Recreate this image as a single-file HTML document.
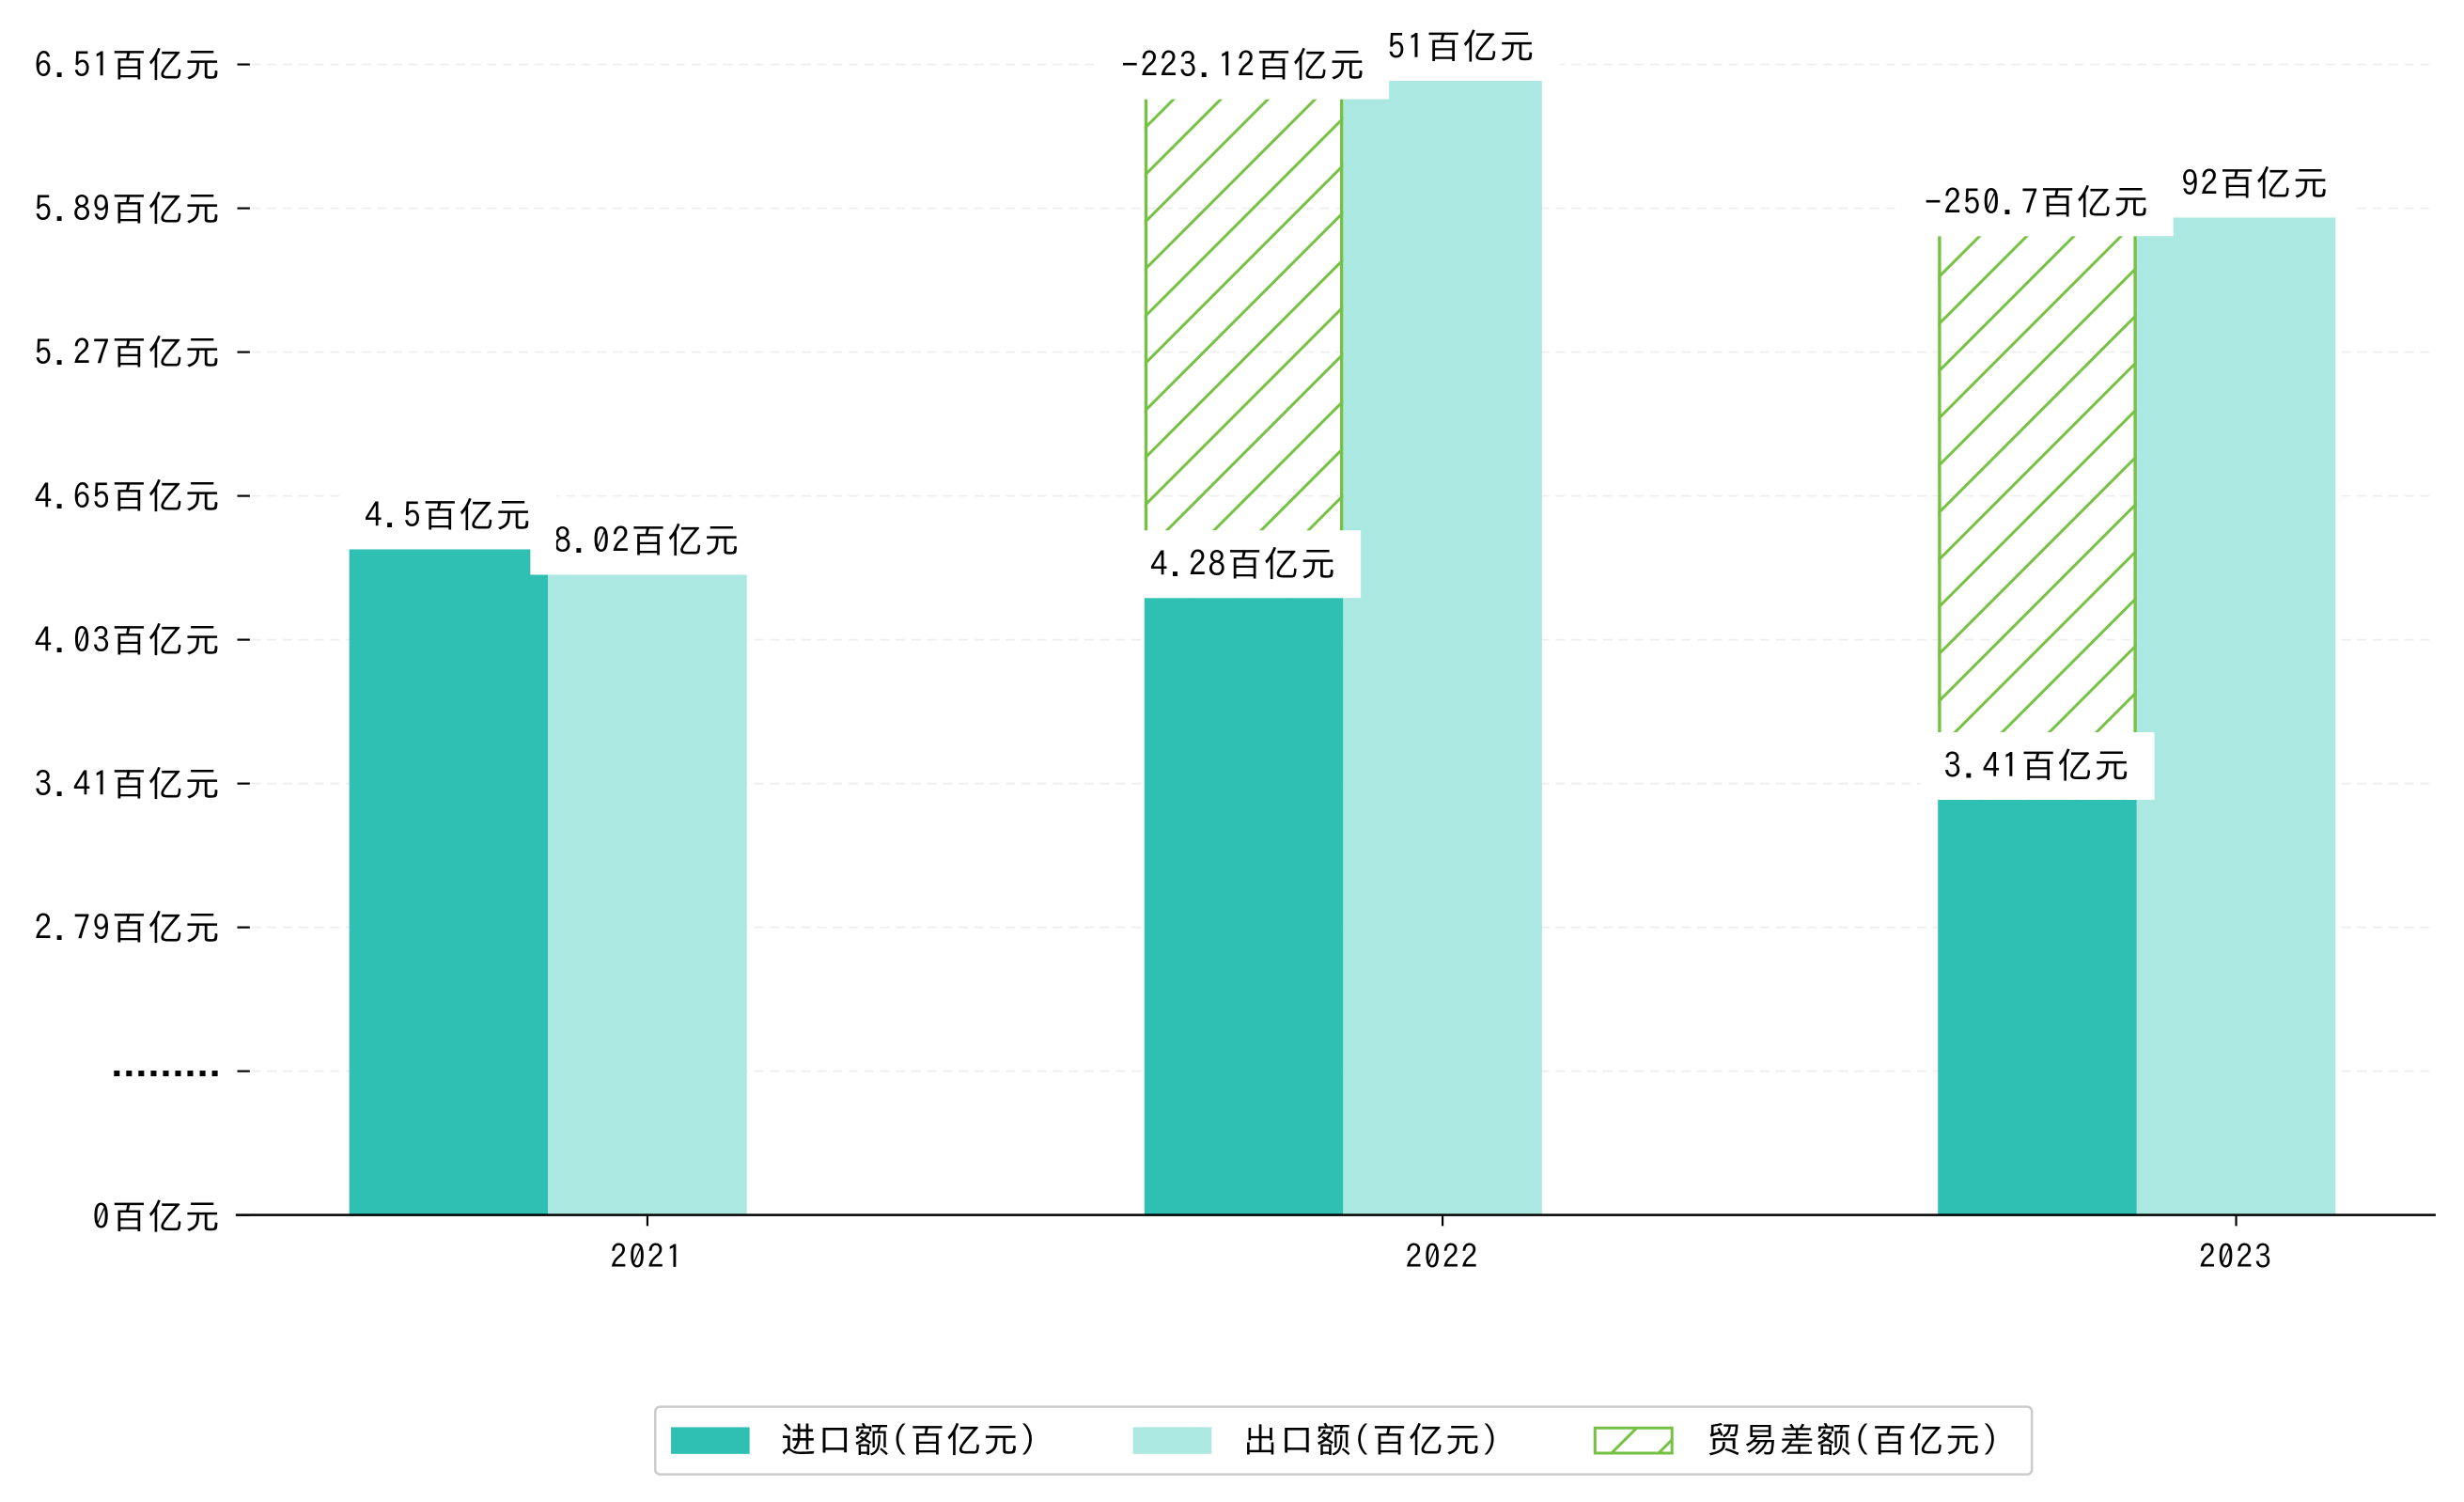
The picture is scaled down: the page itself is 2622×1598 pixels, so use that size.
<!DOCTYPE html>
<html><head><meta charset="utf-8">
<style>
html,body{margin:0;padding:0;background:#fff;}
svg{display:block;}
text{font-family:"IPAGothic","Noto Sans CJK SC",sans-serif;fill:#000;letter-spacing:1.3px;}
</style></head>
<body>
<svg id="chart" width="2622" height="1598" viewBox="0 0 1568 955.6" preserveAspectRatio="none" xmlns="http://www.w3.org/2000/svg">
<defs>
<pattern id="hatch" patternUnits="userSpaceOnUse" width="30" height="30">
<path d="M-3,3 L3,-3 M0,30 L30,0 M27,33 L33,27" stroke="#76c043" stroke-width="1.8"/>
</pattern>
</defs>
<g id="grid"></g>
<g id="bars"></g>
<g id="labels"></g>
<g id="axes"></g>
<g id="legend">
<rect x="417" y="895" width="876" height="43" rx="3" fill="#fff" stroke="#ccc" stroke-width="1.5"/>
<g>
<rect x="427" y="908" width="50" height="17" fill="#30bfb3"/>
<text x="497" y="924" font-size="22">进口额(百亿元)</text></g>
<g>
<rect x="721" y="908" width="50" height="17" fill="#aae8e1"/>
<text x="791" y="924" font-size="22">出口额(百亿元)</text></g>
<g>
<rect x="1015" y="908.5" width="49" height="16" fill="url(#hatch)" stroke="#76c043" stroke-width="1.8"/>
<text x="1086" y="924" font-size="22">贸易差额(百亿元)</text></g>
</g>
</svg>
<script>
const categories = ["2021","2022","2023"];
const importHeights = [4.42, 4.21, 3.34];
const exportHeights = [4.31, 6.44, 5.85];
const balanceTops = [null, 6.36, 5.77];
const importLabels = ["4.5百亿元","4.28百亿元","3.41百亿元"];
const exportLabels = ["8.02百亿元","9.51百亿元","5.92百亿元"];
const balanceLabels = [null,"-223.12百亿元","-250.7百亿元"];
const tickValues = [6.51,5.89,5.27,4.65,4.03,3.41,2.79,2.17];
const tickLabels = ["6.51百亿元","5.89百亿元","5.27百亿元","4.65百亿元","4.03百亿元","3.41百亿元","2.79百亿元","........."];

const NS="http://www.w3.org/2000/svg";
const baseY=773, topY=41, maxV=6.51, pxPerUnit=(590-41)/(6.51-2.79);
function y(v){return Math.min(baseY, topY+(maxV-v)*pxPerUnit);}
const centers=[412,918,1423], barW=126.5;
function x(i){return centers[i];}
function mk(tag,attrs,parent){const e=document.createElementNS(NS,tag);for(const k in attrs)e.setAttribute(k,attrs[k]);parent.appendChild(e);return e;}
const grid=document.getElementById('grid'),bars=document.getElementById('bars'),labels=document.getElementById('labels'),axes=document.getElementById('axes');

tickValues.forEach((v,i)=>{
  const g=mk('line',{x1:160,x2:1550,y1:y(v),y2:y(v),stroke:'#eeeeee','stroke-width':1,'stroke-dasharray':'6,4'},grid);
  
  
  const t=mk('line',{x1:151,x2:159,y1:y(v),y2:y(v),stroke:'#000','stroke-width':1.3},axes);
  
  
  const isDots=tickLabels[i].startsWith('.');
  const l=mk('text',{x:141,y:isDots?y(v)+3:y(v)+8,'text-anchor':'end','font-size':22},axes);
  if(isDots){l.setAttribute('style','letter-spacing:-3.2px;font-weight:bold');}
  l.textContent=tickLabels[i];
  
  
});
{const t=mk('line',{x1:151,x2:159,y1:baseY,y2:baseY,stroke:'#000','stroke-width':1.3},axes);


const l=mk('text',{x:141,y:baseY+9,'text-anchor':'end','font-size':22},axes);l.textContent="0百亿元";

}
const ax=mk('line',{x1:150,x2:1550,y1:baseY,y2:baseY,stroke:'#000','stroke-width':1.5},axes);



function labelBox(txt,cx,bottom,name){
  const cjk=(txt.match(/[百亿元]/g)||[]).length;
  const w=txt.length*12 + cjk*11 + 32;
  const r=mk('rect',{x:cx-w/2,y:bottom-43,width:w,height:43,fill:'#fff'},labels);
  
  
  const t=mk('text',{x:cx,y:bottom-14,'text-anchor':'middle','font-size':22},labels);
  t.textContent=txt;
  
  
}

categories.forEach((c,i)=>{
  const xi=x(i)-1.5*barW, xe=x(i)-0.5*barW;
  const bi=mk('rect',{x:xi,y:y(importHeights[i]),width:barW,height:baseY-y(importHeights[i]),fill:'#30bfb3'},bars);
  
  
  const be=mk('rect',{x:xe,y:y(exportHeights[i]),width:barW,height:baseY-y(exportHeights[i]),fill:'#aae8e1'},bars);
  
  
  if(balanceTops[i]!==null){
    const t0=y(balanceTops[i]), b0=y(importHeights[i]);
    const bh=mk('rect',{x:xi,y:t0,width:barW,height:b0-t0,fill:'url(#hatch)'},bars);
    
    
    [xi+1,xi+barW-1].forEach(xx=>{const e=mk('line',{x1:xx,x2:xx,y1:t0,y2:b0,stroke:'#76c043','stroke-width':2},bars);
      
      });
  }
  const tk=mk('line',{x1:x(i),x2:x(i),y1:baseY,y2:baseY+7,stroke:'#000','stroke-width':1.3},axes);
  
  
  const tl=mk('text',{x:x(i),y:baseY+34,'text-anchor':'middle','font-size':21},axes);
  tl.textContent=c;
  
  
});
categories.forEach((c,i)=>{ labelBox(exportLabels[i],x(i),y(exportHeights[i]),'export-label-'+c); });
categories.forEach((c,i)=>{ labelBox(importLabels[i],x(i)-barW,y(importHeights[i]),'import-label-'+c); });
categories.forEach((c,i)=>{ if(balanceLabels[i]!==null) labelBox(balanceLabels[i],x(i)-barW,y(balanceTops[i]),'balance-label-'+c); });
</script>
</body></html>
